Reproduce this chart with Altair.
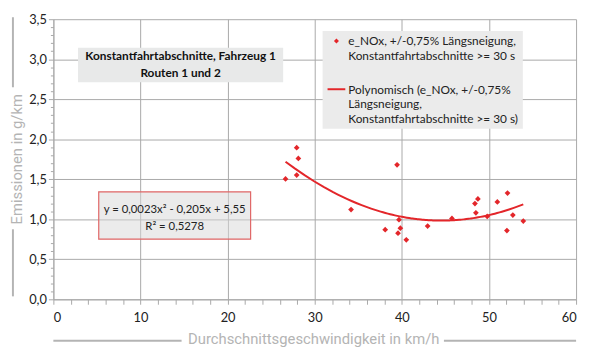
import altair as alt
import pandas as pd

# --- data ---
SPEED = [26.65, 27.93, 28.12, 27.93, 34.17, 38.09, 39.45, 39.67, 39.83, 39.56, 40.51,
         42.96, 45.75, 48.39, 48.73, 48.50, 49.80, 50.96, 52.13, 52.74, 52.06, 53.94]
NOX = [1.504, 1.895, 1.760, 1.553, 1.122, 0.870, 1.681, 0.995, 0.888, 0.826, 0.744,
       0.916, 1.011, 1.196, 1.254, 1.081, 1.036, 1.217, 1.328, 1.052, 0.859, 0.978]

X_TICKS = list(range(0, 61, 2))
Y_TICKS = [round(i * 0.1, 1) for i in range(36)]

TITLE_LINES = ["Konstantfahrtabschnitte, Fahrzeug 1", "Routen 1 und 2"]
LEGEND_POINT = ["e_NOx, +/-0,75% Längsneigung,", "Konstantfahrtabschnitte >= 30 s"]
LEGEND_LINE = ["Polynomisch (e_NOx, +/-0,75%", "Längsneigung,", "Konstantfahrtabschnitte >= 30 s)"]
EQUATION = ["y = 0,0023x² - 0,205x + 5,55", "R² = 0,5278"]
X_TITLE = "Durchschnittsgeschwindigkeit in km/h"
Y_TITLE = "Emissionen in g/km"

RED = "#e3262a"
GRID = "#a9a9a9"
FONT = "Lato"
TITLE_FONT = "Roboto"
TITLE_COLOR = "#b4b4b4"

df = pd.DataFrame({"v": SPEED, "e": NOX})
one = pd.DataFrame({"k": [0]})

W, H = 530, 284

major_y = "abs(datum.value*2 - round(datum.value*2)) < 0.001"
major_x = "datum.value % 10 == 0"

x_axis = alt.Axis(values=X_TICKS, title=None,
                  labelExpr=f"{major_x} ? format(datum.value, 'd') : ''",
                  labelOverlap=False, labelFont=FONT, labelFontSize=13,
                  labelColor="#222", labelPadding=7,
                  tickSize=5, tickColor=GRID, domainColor=GRID,
                  gridColor=GRID,
                  gridOpacity={"condition": {"test": major_x, "value": 1}, "value": 0})
y_axis = alt.Axis(values=Y_TICKS, title=None,
                  labelExpr=f"{major_y} ? replace(format(datum.value, '.1f'), '.', ',') : ''",
                  labelOverlap=False, labelFont=FONT, labelFontSize=13,
                  labelColor="#222", labelPadding=2,
                  tickSize={"condition": {"test": major_y, "value": 5}, "value": 3},
                  tickColor=GRID, domainColor=GRID, gridColor=GRID,
                  gridOpacity={"condition": {"test": major_y, "value": 1}, "value": 0})

x_scale = alt.Scale(domain=[0, 60], nice=False)
y_scale = alt.Scale(domain=[0, 3.5], nice=False)

points = alt.Chart(df).mark_point(shape="diamond", filled=True, size=34, color=RED, opacity=1).encode(
    x=alt.X("v:Q", scale=x_scale, axis=x_axis),
    y=alt.Y("e:Q", scale=y_scale, axis=y_axis))

curve = alt.Chart(df).transform_regression("v", "e", method="poly", order=2).mark_line(
    color=RED, strokeWidth=2).encode(
    x=alt.X("v:Q", scale=x_scale, axis=x_axis),
    y=alt.Y("e:Q", scale=y_scale, axis=y_axis))

base = alt.Chart(one)


def rect(x1, x2, y1, y2, **kw):
    return base.mark_rect(clip=False, **kw).encode(
        x=alt.value(x1), x2=alt.value(x2), y=alt.value(y1), y2=alt.value(y2))


def text(s, x, y, **kw):
    return base.mark_text(clip=False, **kw).encode(
        x=alt.value(x), y=alt.value(y), text=alt.value(s))


def rule(x1, x2, y1, y2, **kw):
    return base.mark_rule(clip=False, **kw).encode(
        x=alt.value(x1), x2=alt.value(x2), y=alt.value(y1), y2=alt.value(y2))


layers = [points, curve]

# title box
layers.append(rect(25, 233, 29, 64, color="#e8e9e9"))
layers.append(text(TITLE_LINES[0], 129, 37, font=FONT, fontSize=12, fontWeight="bold", color="#111"))
layers.append(text(TITLE_LINES[1], 129, 55, font=FONT, fontSize=12, fontWeight="bold", color="#111"))

# legend box
layers.append(rect(273, 476, 12, 111, color="#ebebeb"))
layers.append(base.mark_point(shape="diamond", filled=True, size=26, color=RED, opacity=1, clip=False).encode(
    x=alt.value(287), y=alt.value(22)))
layers.append(rule(278, 296, 71, 71, color=RED, strokeWidth=2))
for s, yy in zip(LEGEND_POINT, [22, 37]):
    layers.append(text(s, 299, yy, font=FONT, fontSize=12, align="left", color="#222"))
for s, yy in zip(LEGEND_LINE, [72, 86, 101]):
    layers.append(text(s, 299, yy, font=FONT, fontSize=12, align="left", color="#222"))

# equation box (translucent)
layers.append(rect(46, 200, 175, 223, fill="#d8d8d8", fillOpacity=0.5, stroke="#e06666", strokeWidth=1.2))
layers.append(text(EQUATION[0], 123, 193, font=FONT, fontSize=11.5, color="#222"))
layers.append(text(EQUATION[1], 123, 211, font=FONT, fontSize=11.5, color="#222"))

# axis titles with decorative lines
layers.append(text(Y_TITLE, -37, 142, angle=270, font=TITLE_FONT, fontSize=15, color=TITLE_COLOR))
layers.append(rule(-41, -41, -2, 69, color=TITLE_COLOR, strokeWidth=2))
layers.append(rule(-41, -41, 213, 281, color=TITLE_COLOR, strokeWidth=2))
layers.append(text(X_TITLE, 264, 324, font=TITLE_FONT, fontSize=15, color=TITLE_COLOR))
layers.append(rule(0, 130, 326, 326, color=TITLE_COLOR, strokeWidth=2))
layers.append(rule(396, 530, 326, 326, color=TITLE_COLOR, strokeWidth=2))

chart = alt.layer(*layers).properties(
    width=W, height=H,
    autosize=alt.AutoSizeParams(type="none"),
    padding={"left": 46, "top": 9, "right": 6, "bottom": 47},
).configure_view(stroke=None).configure_axis(domainWidth=1, gridWidth=1)

chart.save("out.html", embed_options={"renderer": "svg", "actions": False})
